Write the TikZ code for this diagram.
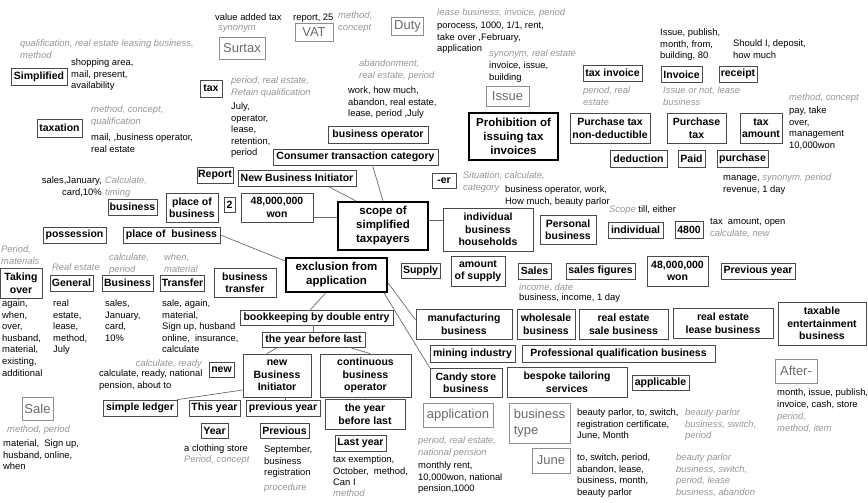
\documentclass[tikz,border=0pt]{standalone}
\usepackage{fontspec}
\setmainfont{Liberation Sans}
\usetikzlibrary{calc}
\definecolor{bd}{HTML}{4A4A4A}
\definecolor{gtc}{HTML}{959595}
\definecolor{gbd}{HTML}{8E8E8E}
\definecolor{gbt}{HTML}{6A6A6A}
\definecolor{lnc}{HTML}{6A6A6A}
\begin{document}
\begin{tikzpicture}[x=1pt,y=-1pt,
  sz/.style 2 args={minimum width=#1pt, minimum height=#2pt},
  bx/.style={draw=bd, line width=0.8pt, font=\bfseries\fontsize{10.5}{12.5}\selectfont, align=center, inner sep=1pt},
  tbx/.style={draw=black, line width=2.2pt, font=\bfseries\fontsize{11.5}{14}\selectfont, align=center, inner sep=1pt},
  gbx/.style={draw=gbd, line width=0.9pt, text=gbt, font=\fontsize{13}{15.5}\selectfont, align=left, inner sep=1pt},
  tx/.style={font=\fontsize{9.4}{11.6}\selectfont, align=left, anchor=north west, inner sep=0pt},
  gt/.style={tx, text=gtc, font=\itshape\fontsize{9.4}{11.6}\selectfont},
  ln/.style={draw=lnc, line width=0.7pt}]
\path[use as bounding box] (0,0) rectangle (868,503);

% ---- boxes ----
\node[bx,sz={56}{17}] (simplified) at (39,76.5) {Simplified};
\node[bx,sz={45}{18}] (taxation) at (59.5,128) {taxation};
\node[bx,sz={22}{17}] (tax) at (211,88.5) {tax};
\node[gbx,sz={46}{22}] (surtax) at (242,48) {Surtax};
\node[gbx,sz={38}{18}] (vat) at (314,32.5) {VAT};
\node[gbx,sz={32}{18}] (duty) at (407.5,26.5) {Duty};
\node[gbx,sz={43}{20}] (issue) at (507.5,96) {Issue};
\node[tbx,sz={89}{47}] (prohib) at (513.5,136.5) {Prohibition of\\issuing tax\\invoices};
\node[bx,sz={59}{16}] (taxinv) at (612.5,73) {tax invoice};
\node[bx,sz={41}{16}] (invoice) at (681.5,74.5) {Invoice};
\node[bx,sz={38}{16}] (receipt) at (738,74) {receipt};
\node[bx,sz={80}{30}] (ptnd) at (610,128) {Purchase tax\\non-deductible};
\node[bx,sz={59}{30}] (ptax) at (696.5,128) {Purchase\\tax};
\node[bx,sz={42}{30}] (tamt) at (761,128) {tax\\amount};
\node[bx,sz={57}{17}] (deduction) at (638.5,158.5) {deduction};
\node[bx,sz={27}{17}] (paid) at (691.5,158.5) {Paid};
\node[bx,sz={51}{17}] (purchase) at (742.5,158.5) {purchase};
\node[bx,sz={100}{17}] (busop) at (378,134.5) {business operator};
\node[bx,sz={165}{16}] (ctc) at (355.5,157) {Consumer transaction category};
\node[bx,sz={36}{16}] (report) at (215,175) {Report};
\node[bx,sz={118}{16}] (nbi) at (297,178) {New Business Initiator};
\node[bx,sz={24}{15}] (er) at (444,180.5) {-er};
\node[bx,sz={49}{16}] (bus1) at (132.5,207) {business};
\node[bx,sz={52}{29}] (pob1) at (192,207.5) {place of\\business};
\node[bx,sz={11}{15}] (two) at (229.5,204.5) {2};
\node[bx,sz={72}{29}] (won48a) at (277,207.5) {48,000,000\\won};
\node[tbx,sz={90}{48}] (scope) at (383,226) {scope of\\simplified\\taxpayers};
\node[bx,sz={90}{43}] (ibh) at (488,229.5) {individual\\business\\households};
\node[bx,sz={56}{29}] (personal) at (568,229.5) {Personal\\business};
\node[bx,sz={55}{16}] (individual) at (635.5,230) {individual};
\node[bx,sz={28}{17}] (n4800) at (689,229.5) {4800};
\node[bx,sz={63}{16}] (possession) at (74.5,235) {possession};
\node[bx,sz={97}{16}] (pob2) at (171.5,235) {place of~ business};
\node[bx,sz={42}{30}] (taking) at (21,283) {Taking\\over};
\node[bx,sz={43}{16}] (general) at (71.5,283) {General};
\node[bx,sz={51}{16}] (bus2) at (127.5,283) {Business};
\node[bx,sz={41}{16}] (transfer) at (182.5,283) {Transfer};
\node[bx,sz={62}{29}] (bustr) at (245,282.5) {business\\transfer};
\node[tbx,sz={101}{34}] (excl) at (336.5,275) {exclusion from\\application};
\node[bx,sz={39}{15}] (supply) at (420.5,270.5) {Supply};
\node[bx,sz={54}{30}] (amtsup) at (478,271) {amount\\of supply};
\node[bx,sz={33}{16}] (sales) at (534.5,271) {Sales};
\node[bx,sz={69}{16}] (salesfig) at (600.5,271) {sales figures};
\node[bx,sz={61}{30}] (won48b) at (677.5,271) {48,000,000\\won};
\node[bx,sz={74}{16}] (prevyr) at (758,271) {Previous year};
\node[bx,sz={153}{15}] (bookk) at (316.5,317.5) {bookkeeping by double entry};
\node[bx,sz={96}{30}] (manuf) at (464,324) {manufacturing\\business};
\node[bx,sz={58}{30}] (wholesale) at (546,324) {wholesale\\business};
\node[bx,sz={89}{30}] (resale) at (623.5,324) {real estate\\sale business};
\node[bx,sz={100}{30}] (release) at (723,323) {real estate\\lease business};
\node[bx,sz={88}{43}] (taxable) at (822,323.5) {taxable\\entertainment\\business};
\node[bx,sz={85}{17}] (mining) at (472.5,353.5) {mining industry};
\node[bx,sz={193}{17}] (profq) at (618.5,353.5) {Professional qualification business};
\node[bx,sz={72}{29}] (candy) at (466,382.5) {Candy store\\business};
\node[bx,sz={120}{30}] (bespoke) at (567,382) {bespoke tailoring\\services};
\node[bx,sz={57}{15}] (applicable) at (660.5,382.5) {applicable};
\node[gbx,sz={70}{24}] (application) at (458,415) {application};
\node[gbx,sz={61}{40}] (bustype) at (539.5,423) {business\\type};
\node[gbx,sz={38}{25}] (june) at (551,460.5) {June};
\node[gbx,sz={42}{24}] (after) at (796,371) {After-};
\node[gbx,sz={31}{23}] (sale) at (37.5,408.5) {Sale};
\node[bx,sz={103}{15}] (ybl1) at (313.5,339.5) {the year before last};
\node[bx,sz={68}{43}] (newbi) at (277,375.5) {new\\Business\\Initiator};
\node[bx,sz={91}{43}] (contbo) at (365.5,375.5) {continuous\\business\\operator};
\node[bx,sz={25}{15}] (new) at (221.5,369.5) {new};
\node[bx,sz={74}{16}] (sledger) at (140,408) {simple ledger};
\node[bx,sz={51}{16}] (thisyr) at (214.5,408) {This year};
\node[bx,sz={74}{16}] (prevyr2) at (283,408) {previous year};
\node[bx,sz={80}{30}] (ybl2) at (365,414) {the year\\before last};
\node[bx,sz={27}{15}] (year) at (214.5,430.5) {Year};
\node[bx,sz={49}{15}] (previous) at (284.5,430.5) {Previous};
\node[bx,sz={51}{16}] (lastyr) at (360.5,443) {Last year};

% ---- text ----
\node[gt] (t1) at (20,39.5) {qualification, real estate leasing business,\\method};
\node[tx] (t2) at (71,58.5) {shopping area,\\mail, present,\\availability};
\node[gt] (t3) at (91,105.5) {method, concept,\\qualification};
\node[tx] (t4) at (91,133.5) {mail, ,business operator,\\real estate};
\node[tx] (t5) at (215,13.5) {value added tax};
\node[gt] (t6) at (218,25.5) {synonym};
\node[tx] (t7) at (293,13.5) {report, 25};
\node[gt] (t8) at (338,11.5) {method,\\concept};
\node[gt] (t9) at (231,76.5) {period, real estate,\\Retain qualification};
\node[tx] (t10) at (231,102.5) {July,\\operator,\\lease,\\retention,\\period};
\node[gt] (t11) at (359,59.5) {abandonment,\\real estate, period};
\node[tx] (t12) at (348,86.5) {work, how much,\\abandon, real estate,\\lease, period ,July};
\node[gt] (t13) at (437,8.5) {lease business, invoice, period};
\node[tx] (t14) at (437,21.5) {porocess, 1000, 1/1, rent,\\take over ,February,\\application};
\node[gt] (t15) at (489,49.5) {synonym, real estate};
\node[tx] (t16) at (489,61.5) {invoice, issue,\\building};
\node[gt] (t17) at (583,86.5) {period, real\\estate};
\node[tx] (t18) at (660,28.5) {Issue, publish,\\month, from,\\building, 80};
\node[tx] (t19) at (733,39.5) {Should I, deposit,\\how much};
\node[gt] (t20) at (663,86.5) {Issue or not, lease\\business};
\node[gt] (t21) at (789,93.5) {method, concept};
\node[tx] (t22) at (789,106.5) {pay, take\\over,\\management\\10,000won};
\node[tx] (t23) at (723,173.5) {manage, {\color{gtc}\itshape synonym, period}\\revenue, 1 day};
\node[tx,anchor=north east,align=right] (t24) at (102,176.5) {sales,January,\\card,10\%};
\node[gt] (t25) at (105,176.5) {Calculate,\\timing};
\node[gt] (t26) at (463,171.5) {Situation, calculate,\\category};
\node[tx] (t27) at (505,185.5) {business operator, work,\\How much, beauty parlor};
\node[tx] (t28) at (609,205.5) {{\color{gtc}\itshape Scope} till, either};
\node[tx] (t29) at (710,218.5) {tax~ amount, open\\{\color{gtc}\itshape calculate, new}};
\node[gt] (t30) at (1,245.5) {Period,\\materials};
\node[gt] (t31) at (52,263.5) {Real estate};
\node[gt] (t32) at (109,253.5) {calculate,\\period};
\node[gt] (t33) at (164,253.5) {when,\\material};
\node[gt] (t34) at (519,283.5) {income, date};
\node[tx] (t35) at (519,293.5) {business, income, 1 day};
\node[tx] (t36) at (2,299.5) {again,\\when,\\over,\\husband,\\material,\\existing,\\additional};
\node[tx] (t37) at (53,299.5) {real\\estate,\\lease,\\method,\\July};
\node[tx] (t38) at (105,299.5) {sales,\\January,\\card,\\10\%};
\node[tx] (t39) at (162,299.5) {sale, again,\\material,\\Sign up, husband\\online,~ insurance,\\calculate};
\node[gt,anchor=north east,align=right] (t40) at (202,359.5) {calculate, ready};
\node[tx] (t41) at (99,369.5) {calculate, ready, national\\pension, about to};
\node[gt] (t42) at (7,425.5) {method, period};
\node[tx] (t43) at (3,439.5) {material,~ Sign up,\\husband, online,\\when};
\node[tx] (t44) at (184,444.5) {a clothing store};
\node[gt] (t45) at (184,455.5) {Period, concept};
\node[tx] (t46) at (264,445.5) {September,\\business\\registration};
\node[gt] (t47) at (264,483.5) {procedure};
\node[tx] (t48) at (333,455.5) {tax exemption,\\October,~ method,\\Can I};
\node[gt] (t49) at (333,489.5) {method};
\node[gt] (t50) at (418,436.5) {period, real estate,\\national pension};
\node[tx] (t51) at (418,461.5) {monthly rent,\\10,000won, national\\pension,1000};
\node[tx] (t52) at (577,408.5) {beauty parlor, to, switch,\\registration certificate,\\June, Month};
\node[gt] (t53) at (685,408.5) {beauty parlor\\business, switch,\\period};
\node[tx] (t54) at (577,453.5) {to, switch, period,\\abandon, lease,\\business, month,\\beauty parlor};
\node[gt] (t55) at (676,453.5) {beauty parlor\\business, switch,\\period, lease\\business, abandon};
\node[tx] (t56) at (777,388.5) {month, issue, publish,\\invoice, cash, store};
\node[gt] (t57) at (777,412.5) {period,\\method, item};

% ---- connectors ----
\draw[ln] (scope.north) -- ($(ctc.south)+(17,0)$);
\draw[ln] ($(nbi.south)+(31,0)$) -- ($(scope.north west)+(19,0)$);
\draw[ln] ($(won48a.east)+(0,9.5)$) -- ($(scope.west)+(0,-9)$);
\draw[ln] ($(scope.east)+(0,-6)$) -- ($(ibh.west)+(0,-9.5)$);
\draw[ln] (pob2.east) -- ($(excl.north west)+(0,4)$);
\draw[ln] ($(excl.south)+(-11,0)$) -- ($(bookk.north)+(-6,0)$);
\draw[ln] ($(excl.east)+(0,8)$) -- ($(manuf.west)+(0,-4)$);
\draw[ln] ($(excl.south east)+(-4,0)$) -- (candy.north west);
\draw[ln] ($(bookk.south)+(-3,0)$) -- (ybl1.north);
\draw[ln] ($(ybl1.south)+(-36,0)$) -- ($(newbi.north)+(-10,0)$);
\draw[ln] ($(ybl1.south)+(36,0)$) -- ($(contbo.north)+(4.5,0)$);
\draw[ln] ($(newbi.west)+(0,14.5)$) -- (sledger.north east);
\draw[ln] ($(newbi.south)+(8,0)$) -- ($(prevyr2.north)+(2,0)$);
\draw[ln] (contbo.south) -- (ybl2.north);
\end{tikzpicture}
\end{document}
